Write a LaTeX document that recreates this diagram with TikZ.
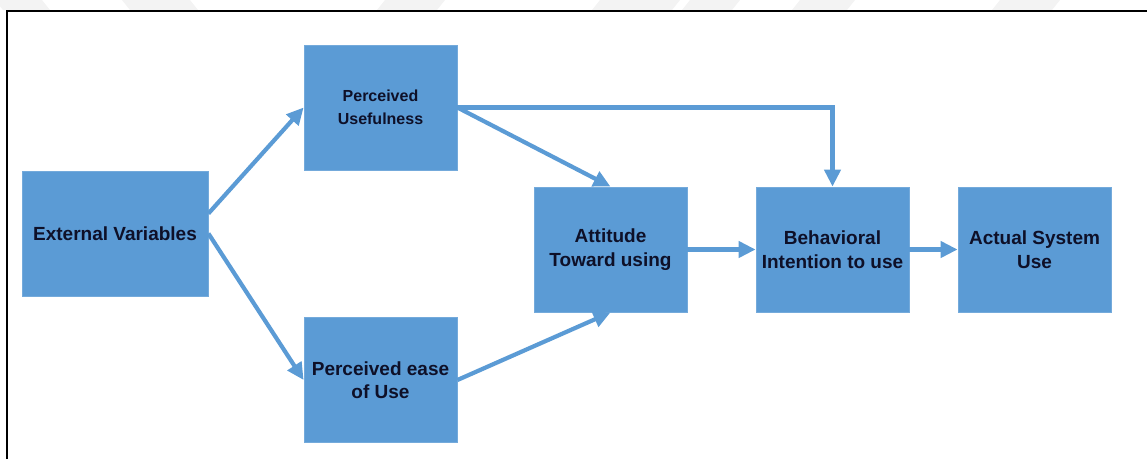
\documentclass[tikz,border=0pt]{standalone}
\usepackage{fontspec}
\setmainfont{Liberation Sans}
\usetikzlibrary{arrows.meta}
\definecolor{boxblue}{HTML}{5B9BD5}
\definecolor{boxedge}{HTML}{74AADB}
\definecolor{inktext}{HTML}{0E1028}
\definecolor{faintband}{HTML}{F3F3F3}
\tikzset{
  tambox/.style={rectangle, fill=boxblue, draw=boxedge, line width=0.8pt,
    minimum width=153pt, minimum height=125pt, inner sep=2pt,
    align=center, text=inktext,
    font=\fontsize{19pt}{23.5pt}\selectfont\bfseries},
  smalltext/.style={font=\fontsize{16pt}{23pt}\selectfont\bfseries},
  flow/.style={draw=boxblue, line width=4.2pt,
    -{Triangle[length=17pt,width=16pt]}},
}
\begin{document}
\begin{tikzpicture}[x=1pt,y=-1pt]
  \useasboundingbox (0,0) rectangle (1147,459);
  % faint bands along the top edge
  \foreach \a/\b/\d in {-5/42/8, 122/190/8, 385/445/-8, 600/680/-8, 690/740/-8, 800/855/-8, 1000/1060/-8}
    \fill[faintband] (\a,0) -- (\b,0) -- (\b+\d,10) -- (\a+\d,10) -- cycle;
  % frame
  \draw[line width=2.2pt, black] (7,459) -- (7,11) -- (1147,11);

  % boxes
  \node[tambox, minimum width=186pt] (ev) at (115,233.5) {External Variables};
  \node[tambox, smalltext] (pu) at (380.5,107.5) {Perceived\\Usefulness};
  \node[tambox] (peu) at (380.5,380) {Perceived ease\\of Use};
  \node[tambox] (at) at (610.5,249.5) {Attitude\\Toward using};
  \node[tambox] (bi) at (832.5,249.5) {Behavioral\\Intention to use};
  \node[tambox] (asu) at (1034.5,249.5) {Actual System\\Use};

  % connectors
  \draw[flow] ([yshift=20pt]ev.east) -- (pu.west);
  \draw[flow] (ev.east) -- (peu.west);
  \draw[flow] (pu.east) -- (at.north);
  \draw[flow] (peu.east) -- (at.south);
  \draw[flow] (pu.east) -| (bi.north);
  \draw[flow] (at.east) -- (bi.west);
  \draw[flow] (bi.east) -- (asu.west);
\end{tikzpicture}
\end{document}
